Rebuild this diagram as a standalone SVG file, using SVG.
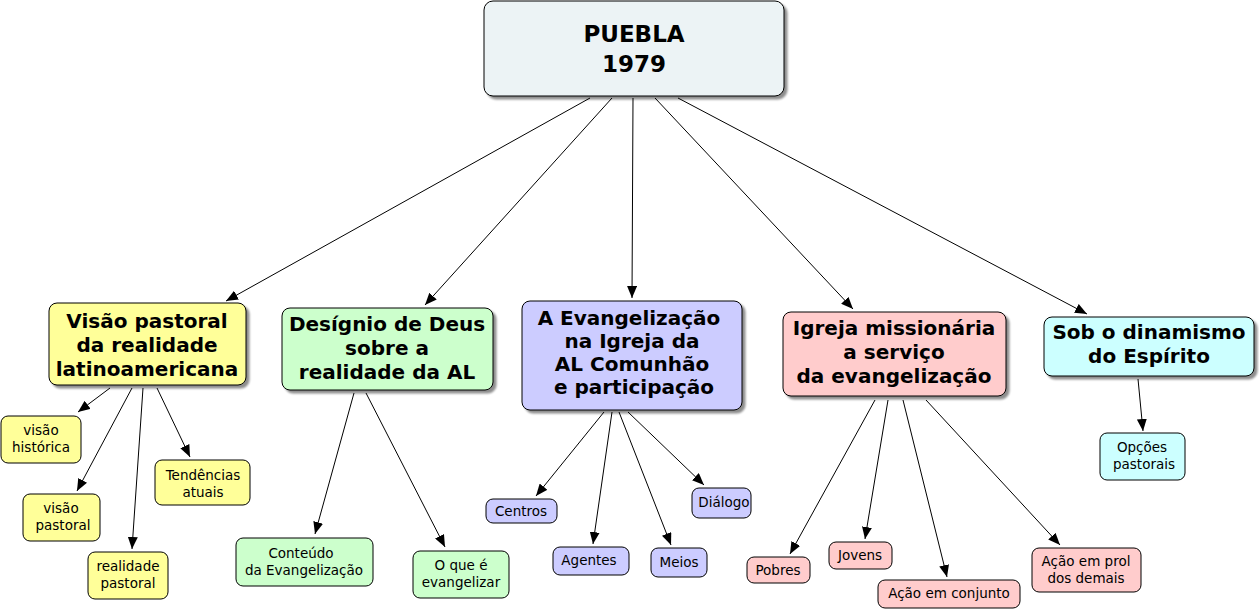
<svg xmlns="http://www.w3.org/2000/svg" width="1259" height="612" viewBox="0 0 1259 612">
<defs>
<marker id="ah" markerWidth="12" markerHeight="10" refX="12" refY="5" orient="auto" markerUnits="userSpaceOnUse">
<path d="M0,0 L12,5 L0,10 Z" fill="#000"/>
</marker>
<filter id="sh" x="-5%" y="-5%" width="115%" height="120%">
<feOffset in="SourceAlpha" dx="3" dy="3" result="o"/>
<feGaussianBlur in="o" stdDeviation="0.8" result="b"/>
<feComponentTransfer in="b" result="c"><feFuncA type="linear" slope="0.45"/></feComponentTransfer>
<feMerge><feMergeNode in="c"/><feMergeNode in="SourceGraphic"/></feMerge>
</filter>
</defs>
<style>
.big{stroke:#000;stroke-width:1;filter:url(#sh)}
.sm{stroke:#000;stroke-width:1}
.bt{font-family:"DejaVu Sans",Verdana,sans-serif;font-weight:bold;font-size:20px;text-anchor:middle;fill:#000}
.st{font-family:"DejaVu Sans",Verdana,sans-serif;font-size:13.5px;text-anchor:middle;fill:#000}
.y{fill:#ffff99}.g{fill:#ccffcc}.b{fill:#ccccff}.p{fill:#ffcccc}.c{fill:#ccffff}
#conn line{stroke:#000;stroke-width:1;marker-end:url(#ah)}
</style>
<rect width="1259" height="612" fill="#fff"/>
<g id="conn">
<line x1="590" y1="98" x2="226" y2="301"/>
<line x1="612" y1="98" x2="425" y2="305"/>
<line x1="633" y1="98" x2="632" y2="298"/>
<line x1="655" y1="98" x2="853" y2="309"/>
<line x1="678" y1="98" x2="1087" y2="314"/>
<line x1="110" y1="388" x2="78" y2="412"/>
<line x1="132" y1="388" x2="77" y2="491"/>
<line x1="143" y1="388" x2="132" y2="549"/>
<line x1="157" y1="388" x2="190" y2="457"/>
<line x1="354" y1="393" x2="315" y2="534"/>
<line x1="366" y1="393" x2="445" y2="547"/>
<line x1="604" y1="412" x2="536" y2="496"/>
<line x1="612" y1="412" x2="593" y2="544"/>
<line x1="619" y1="412" x2="671" y2="545"/>
<line x1="628" y1="412" x2="704" y2="485"/>
<line x1="875" y1="400" x2="790" y2="554"/>
<line x1="888" y1="400" x2="865" y2="539"/>
<line x1="903" y1="400" x2="947" y2="577"/>
<line x1="926" y1="400" x2="1060" y2="545"/>
<line x1="1138" y1="379" x2="1143" y2="431"/>
</g>
<g id="puebla">
<rect class="big" x="484" y="1" width="300" height="95" rx="9" fill="#ecf3f5"/>
<text class="bt" style="font-size:23px" x="634" y="42">PUEBLA</text>
<text class="bt" style="font-size:23px" x="634" y="72">1979</text>
</g>
<g id="visao">
<rect class="big y" x="49" y="303" width="197" height="82" rx="8"/>
<text class="bt" x="147" y="328">Visão pastoral</text>
<text class="bt" x="147" y="352">da realidade</text>
<text class="bt" x="147" y="376">latinoamericana</text>
</g>
<g id="designio">
<rect class="big g" x="282" y="308" width="211" height="82" rx="8"/>
<text class="bt" x="387" y="331">Desígnio de Deus</text>
<text class="bt" x="387" y="355">sobre a</text>
<text class="bt" x="387" y="379">realidade da AL</text>
</g>
<g id="evangelizacao">
<rect class="big b" x="522" y="301" width="220" height="109" rx="8"/>
<text class="bt" x="629" y="325">A Evangelização</text>
<text class="bt" x="632" y="348">na Igreja da</text>
<text class="bt" x="632" y="371">AL Comunhão</text>
<text class="bt" x="634" y="394">e participação</text>
</g>
<g id="igreja">
<rect class="big p" x="783" y="312" width="223" height="84" rx="8"/>
<text class="bt" x="894" y="335">Igreja missionária</text>
<text class="bt" x="894" y="359">a serviço</text>
<text class="bt" x="894" y="383">da evangelização</text>
</g>
<g id="sob">
<rect class="big c" x="1044" y="317" width="210" height="59" rx="8"/>
<text class="bt" x="1149" y="339">Sob o dinamismo</text>
<text class="bt" x="1149" y="363">do Espírito</text>
</g>
<g id="visao-historica">
<rect class="sm y" x="1" y="416" width="80" height="47" rx="7"/>
<text class="st" x="41" y="435">visão</text>
<text class="st" x="41" y="452">histórica</text>
</g>
<g id="visao-pastoral">
<rect class="sm y" x="23" y="494" width="77" height="47" rx="7"/>
<text class="st" x="61" y="513">visão</text>
<text class="st" x="63" y="530">pastoral</text>
</g>
<g id="realidade-pastoral">
<rect class="sm y" x="88" y="552" width="80" height="47" rx="7"/>
<text class="st" x="128" y="571">realidade</text>
<text class="st" x="128" y="588">pastoral</text>
</g>
<g id="tendencias">
<rect class="sm y" x="155" y="460" width="95" height="45" rx="7"/>
<text class="st" x="203" y="480">Tendências</text>
<text class="st" x="203" y="497">atuais</text>
</g>
<g id="conteudo">
<rect class="sm g" x="236" y="538" width="137" height="48" rx="7"/>
<text class="st" x="301" y="558">Conteúdo</text>
<text class="st" x="304" y="575">da Evangelização</text>
</g>
<g id="oque">
<rect class="sm g" x="413" y="551" width="96" height="47" rx="7"/>
<text class="st" x="461" y="570">O que é</text>
<text class="st" x="461" y="587">evangelizar</text>
</g>
<g id="centros">
<rect class="sm b" x="486" y="499" width="71" height="24" rx="7"/>
<text class="st" x="521" y="516">Centros</text>
</g>
<g id="agentes">
<rect class="sm b" x="553" y="547" width="76" height="28" rx="7"/>
<text class="st" x="589" y="565">Agentes</text>
</g>
<g id="meios">
<rect class="sm b" x="651" y="548" width="56" height="29" rx="7"/>
<text class="st" x="679" y="567">Meios</text>
</g>
<g id="dialogo">
<rect class="sm b" x="692" y="488" width="59" height="30" rx="7"/>
<text class="st" x="724" y="507">Diálogo</text>
</g>
<g id="pobres">
<rect class="sm p" x="747" y="557" width="63" height="26" rx="7"/>
<text class="st" x="778" y="575">Pobres</text>
</g>
<g id="jovens">
<rect class="sm p" x="829" y="542" width="63" height="27" rx="7"/>
<text class="st" x="860" y="560">Jovens</text>
</g>
<g id="acao-conjunto">
<rect class="sm p" x="878" y="580" width="142" height="28" rx="7"/>
<text class="st" x="949" y="598">Ação em conjunto</text>
</g>
<g id="acao-prol">
<rect class="sm p" x="1032" y="548" width="109" height="44" rx="7"/>
<text class="st" x="1086" y="566">Ação em prol</text>
<text class="st" x="1086" y="583">dos demais</text>
</g>
<g id="opcoes">
<rect class="sm c" x="1100" y="433" width="85" height="47" rx="7"/>
<text class="st" x="1142" y="452">Opções</text>
<text class="st" x="1144" y="469">pastorais</text>
</g>
</svg>
